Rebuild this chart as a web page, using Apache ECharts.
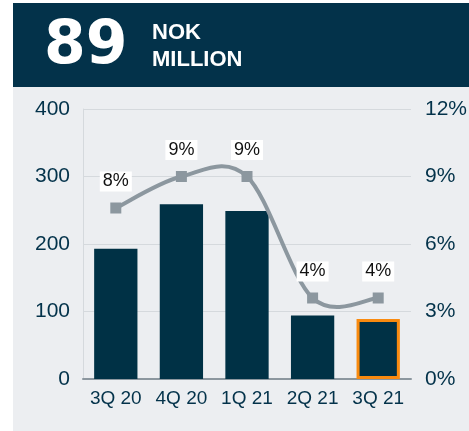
<!DOCTYPE html>
<html>
<head>
<meta charset="utf-8">
<script src="https://cdn.jsdelivr.net/npm/echarts@6/dist/echarts.min.js"></script>
<style>
  html, body { margin: 0; padding: 0; background: #fff; }
  #chart { width: 469px; height: 431px; }
</style>
</head>
<body>
<div id="chart"></div>
<script>
const quarters = ['3Q 20', '4Q 20', '1Q 21', '2Q 21', '3Q 21']
const revenue = [193, 259, 249, 94, 89]
const margin = [7.6, 9.0, 9.0, 3.6, 3.6]
const leftTicks = [0, 100, 200, 300, 400]

const navy = '#03324a'
const lineGray = '#8c979f'
const font = 'Liberation Sans'

// catmull-rom curve through the margin points (the source chart overshoots between points)
function curvePath(params, api) {
  if (params.dataIndex !== 0) return null
  const pts = margin.map((v, i) => api.coord([i, v]))
  let d = 'M' + pts[0][0] + ',' + pts[0][1]
  for (let i = 0; i < pts.length - 1; i++) {
    const p0 = pts[Math.max(i - 1, 0)]
    const p1 = pts[i]
    const p2 = pts[i + 1]
    const p3 = pts[Math.min(i + 2, pts.length - 1)]
    const c1 = [p1[0] + (p2[0] - p0[0]) / 6, p1[1] + (p2[1] - p0[1]) / 6]
    const c2 = [p2[0] - (p3[0] - p1[0]) / 6, p2[1] - (p3[1] - p1[1]) / 6]
    d += ' C' + c1.join(',') + ' ' + c2.join(',') + ' ' + p2.join(',')
  }
  return {
    type: 'path',
    shape: { pathData: d },
    style: { stroke: lineGray, lineWidth: 4, fill: null },
  }
}

const chart = echarts.init(document.getElementById('chart'))

chart.setOption({
  textStyle: { fontFamily: font },
  graphic: [
    { type: 'rect', shape: { x: 13, y: 3, width: 456, height: 84 }, style: { fill: navy }, z: -10 },
    { type: 'rect', shape: { x: 13, y: 87, width: 456, height: 344 }, style: { fill: '#eceef1' }, z: -10 },
    {
      type: 'text', left: 44, top: 17,
      style: { text: '89', fill: '#fff', font: 'bold 60px "DejaVu Sans"' },
    },
    {
      type: 'text', left: 152, top: 19,
      style: { text: 'NOK\nMILLION', fill: '#fff', font: 'bold 22px "Liberation Sans"', lineHeight: 27 },
    },
  ],
  grid: { left: 83, right: 58, top: 109, bottom: 52, outerBoundsMode: 'none', containLabel: false },
  xAxis: {
    type: 'category',
    data: quarters,
    axisTick: { show: false },
    axisLine: { lineStyle: { color: lineGray, width: 2 } },
    axisLabel: { color: navy, fontSize: 19, margin: 10, interval: 0, hideOverlap: false },
  },
  yAxis: [
    {
      type: 'value', min: leftTicks[0], max: leftTicks[leftTicks.length - 1], interval: 100,
      axisLine: { show: true, lineStyle: { color: '#d5d9dd' } },
      axisTick: { show: false },
      splitLine: { lineStyle: { color: '#d5d9dd' } },
      axisLabel: { color: navy, fontSize: 21, margin: 13 },
    },
    {
      type: 'value', min: 0, max: 12, interval: 3,
      axisLine: { show: false },
      axisTick: { show: false },
      splitLine: { show: false },
      axisLabel: { color: navy, fontSize: 21, margin: 14, formatter: '{value}%' },
    },
  ],
  series: [
    {
      type: 'bar',
      data: revenue.map((v, i) => i === revenue.length - 1
        ? { value: v, itemStyle: { borderColor: '#f98a0f', borderWidth: 3 } }
        : v),
      barWidth: '66%',
      itemStyle: { color: '#003145' },
    },
    {
      type: 'custom',
      yAxisIndex: 1,
      data: margin,
      renderItem: curvePath,
      z: 3,
    },
    {
      type: 'line',
      yAxisIndex: 1,
      data: margin,
      symbol: 'rect',
      symbolSize: 11,
      lineStyle: { width: 0, opacity: 0 },
      itemStyle: { color: lineGray },
      z: 4,
      label: {
        show: true,
        position: 'top',
        distance: 11,
        formatter: (p) => Math.round(p.value) + '%',
        color: '#111',
        fontSize: 18,
        backgroundColor: '#fff',
        padding: [1, 3, 1, 3],
      },
    },
  ],
})
</script>
</body>
</html>
